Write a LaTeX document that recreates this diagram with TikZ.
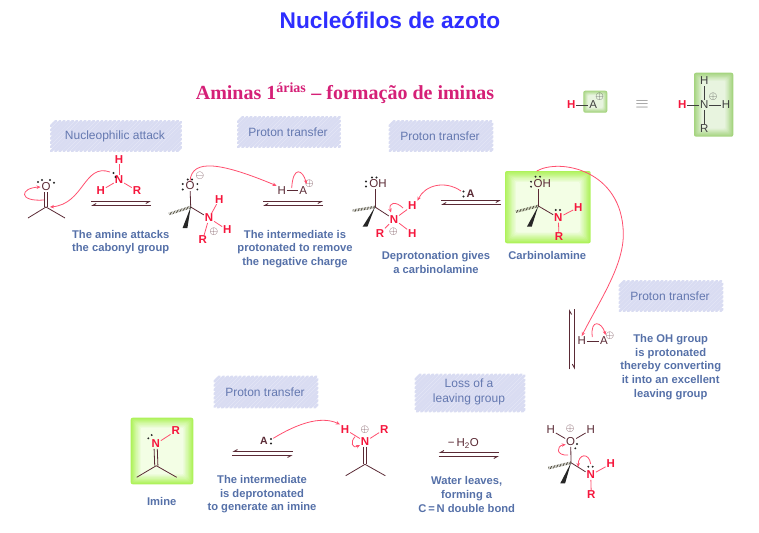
\documentclass[tikz,border=0pt]{standalone}
\usepackage{fontspec}
\setmainfont{Liberation Sans}
\newfontfamily\titleserif{Liberation Serif}
\usetikzlibrary{positioning,arrows.meta}
\definecolor{maroon}{HTML}{5A2A35}
\definecolor{atomred}{HTML}{F5163C}
\definecolor{curvepink}{HTML}{FF4F6E}
\definecolor{capblue}{HTML}{5570A8}
\definecolor{tagblue}{HTML}{6478B0}
\definecolor{tagstroke}{HTML}{D9DCF2}
\definecolor{tagfill}{HTML}{F1F2FB}
\definecolor{limeedge}{HTML}{AEF25A}
\definecolor{limecore}{HTML}{FAFFF5}
\definecolor{oliveedge}{HTML}{A4D47E}
\definecolor{olivecore}{HTML}{F0F8EA}
\begin{document}
\begin{tikzpicture}[x=1pt,y=-1pt,
		atom/.style={text=maroon,inner sep=.8pt,font=\fontsize{11.5}{11.5}\selectfont},
		hetero/.style={text=atomred,inner sep=.8pt,font=\fontsize{11.5}{11.5}\selectfont\bfseries},
		greyatom/.style={text=black!75,inner sep=.8pt,font=\fontsize{11.5}{11.5}\selectfont},
		charge/.style={text=maroon,inner sep=0pt,font=\fontsize{11}{11}\selectfont},
		bond/.style={draw=maroon,line width=.8pt},
		greybond/.style={draw=black!75,line width=.8pt},
		redbond/.style={draw=curvepink,line width=.8pt},
		hashbond/.style={draw=black!70!olive,line width=2.6pt,dash pattern=on .6pt off .9pt},
		wedgebond/.style={fill=black!85},
		curve/.style={draw=curvepink,line width=.8pt,-{Stealth[length=4pt,width=3.5pt]}},
		eqline/.style={draw=maroon,line width=.9pt,-{Straight Barb[right,length=3.5pt,width=4pt]}},
		tag/.style={text=tagblue,align=center,font=\fontsize{12}{14.3}\selectfont,inner sep=0pt},
		caption/.style={text=capblue,align=center,inner sep=0pt,font=\fontsize{11.2}{13.7}\selectfont\bfseries}]
	\useasboundingbox (0,0) rectangle (759,532);

	% glow boxes
	\foreach \xa/\ya/\xb/\yb/\edge/\core/\w in {505/171/590.7/243.3/limeedge/limecore/1.2,
			130.7/417.7/193.3/484.3/limeedge/limecore/1.1,
			583.3/90.7/607.3/112.7/oliveedge/olivecore/.5,
			694/72.7/733.3/136.7/oliveedge/olivecore/.9} {
		\foreach \i in {0,...,9} {
			\pgfmathtruncatemacro\pct{100-\i*10}
			\fill[\edge!\pct!\core,rounded corners=2pt] ({\xa+\i*\w},{\ya+\i*\w}) rectangle ({\xb-\i*\w},{\yb-\i*\w});
		}
	}

	% headings
	\node[text=blue!82!white,font=\fontsize{22.7}{22.7}\selectfont\bfseries] (title) at (390,20) {Nucleófilos de azoto};
	\node[text=black!15!magenta!85!red,font=\fontsize{20}{20}\selectfont\bfseries\titleserif] (subtitle) at (345,93) {Aminas 1\textsuperscript{árias} – formação de iminas};

	% hatched tags
	\foreach \cx/\cy/\w/\h in {116/136/130/30,289/132/102/30,441/136/103/30,671/296/103/30,470/393/109/37,266/392/103/31} {
		\pgfmathsetmacro\lft{\cx-\w/2}
		\pgfmathsetmacro\rgt{\cx+\w/2}
		\pgfmathsetmacro\bot{\cy+\h/2}
		\pgfmathsetmacro\sa{\lft-\h+5}
		\pgfmathsetmacro\sb{\lft-\h+9.2}
		\fill[tagfill,rounded corners=5pt] (\lft,{\cy-\h/2}) rectangle (\rgt,\bot);
		\foreach \s in {\sa,\sb,...,\rgt} {
			\pgfmathsetmacro\ua{max(\lft,\s)}
			\pgfmathsetmacro\va{min(\rgt,\s+\h)}
			\draw[tagstroke,line width=2.7pt,line cap=round] (\ua,{\bot-(\ua-\s)}) -- (\va,{\bot-(\va-\s)});
		}
	}
	\node[tag] (tag1) at (115,136) {Nucleophilic attack};
	\node[tag] (tag2) at (288,132) {Proton transfer};
	\node[tag] (tag3) at (440,136) {Proton transfer};
	\node[tag] (tag4) at (670,296) {Proton transfer};
	\node[tag] (tag5) at (469,392) {Loss of a\\leaving group};
	\node[tag] (tag6) at (265,392) {Proton transfer};

	% H-A legend
	\node[hetero]	(lh)	at (571.3,105)	{H};
	\node[greyatom]	(la)	at (593.3,105)	{A};
	\node[charge,text=black!75]	(lp)	at (599.5,97)	{$\oplus$};
	\draw[greybond] (lh) -- (la);
	\node[text=black!50,font=\fontsize{17}{17}\selectfont] (leq) at (642,104.5) {$\equiv$};
	\node[hetero]	(rh)	at (682.3,105)	{H};
	\node[greyatom]	(rn)	at (704.3,105)	{N};
	\node[greyatom]	(rh2)	at (726,105)	{H};
	\node[greyatom]	(rh3)	at (704.3,80.7)	{H};
	\node[greyatom]	(rr)	at (704.3,129)	{R};
	\node[charge,text=black!75]	(rp)	at (713,96.5)	{$\oplus$};
	\draw[greybond] (rh) -- (rn);
	\draw[greybond] (rn) -- (rh2);
	\draw[greybond] (rn) -- (rh3);
	\draw[greybond] (rn) -- (rr);

	% equilibrium arrows
	\foreach \n/\xa/\xb/\ya/\yb in {1/91/151/201.5/205.5,2/263/323/201.5/205.5,3/441/501/200.5/204.5,
			4/232.3/292.7/455.5/451.5,5/438.7/499/456.5/452.5} {
		\coordinate (eq\n a) at (\xa,\ya);
		\coordinate (eq\n b) at (\xb,\ya);
		\coordinate (eq\n c) at (\xb,\yb);
		\coordinate (eq\n d) at (\xa,\yb);
		\draw[eqline] (eq\n a) -- (eq\n b);
		\draw[eqline] (eq\n c) -- (eq\n d);
	}
	\coordinate (eqva) at (569.6,369.3);
	\coordinate (eqvb) at (569.6,309.3);
	\coordinate (eqvc) at (574.3,309.3);
	\coordinate (eqvd) at (574.3,369.3);
	\draw[eqline] (eqva) -- (eqvb);
	\draw[eqline] (eqvc) -- (eqvd);

	% ketone and amine
	\node[atom]		(o1)	at (46,187)		{O};
	\coordinate		(c1)	at (46,207);
	\coordinate		(m1a)	at (28,218);
	\coordinate		(m1b)	at (65,218);
	\draw[bond] ([xshift=-1.6]o1.south) -- ([xshift=-1.6]c1);
	\draw[bond] ([xshift=1.6]o1.south) -- ([xshift=1.6]c1);
	\draw[bond] (c1) -- (m1a);
	\draw[bond] (c1) -- (m1b);
	\coordinate		(b1)	at (44,200);
	\draw[curve] (b1) .. controls (18,202) and (20,188) .. (o1.west);
	\node[hetero]	(n1)	at (119,180)	{N};
	\node[hetero]	(h1a)	at (119,159.3)	{H};
	\node[hetero]	(h1b)	at (100.7,190.7) {H};
	\node[hetero]	(r1)	at (137,190.7)	{R};
	\draw[redbond] (n1) -- (h1a);
	\draw[redbond] (n1) -- (h1b);
	\draw[redbond] (n1) -- (r1);
	\coordinate		(lp1)	at (110,172);
	\draw[curve] (lp1) .. controls (84,163) and (84,204) .. ([xshift=4]c1);

	% alkoxide
	\node[atom]		(o2)	at (190,186)	{O};
	\node[charge]	(m2)	at (200,175.7)	{$\ominus$};
	\coordinate		(c2)	at (190.7,207);
	\coordinate		(w2)	at (185,228);
	\coordinate		(s2)	at (169,214);
	\node[hetero]	(n2)	at (209,218)	{N};
	\node[hetero]	(h2a)	at (219.3,199.3) {H};
	\node[hetero]	(h2b)	at (227.3,230)	{H};
	\node[hetero]	(r2)	at (202.7,240)	{R};
	\node[charge]	(p2)	at (214,231.5) {$\oplus$};
	\draw[bond] (o2) -- (c2);
	\draw[bond] (c2) -- (n2);
	\draw[hashbond] (c2) -- (s2);
	\fill[wedgebond] (c2) -- ([xshift=-2.4]w2) -- ([xshift=2.4]w2) -- cycle;
	\draw[redbond] (n2) -- (h2a);
	\draw[redbond] (n2) -- (h2b);
	\draw[redbond] (n2) -- (r2);
	\node[atom]		(h2c)	at (281.7,190.7) {H};
	\node[atom]		(a2)	at (303.3,190.7) {A};
	\node[charge]	(p2a)	at (309.3,184)	{$\oplus$};
	\draw[bond] (h2c) -- (a2);
	\draw[curve] (o2.north) .. controls (192,158) and (222,163) .. (h2c.north west);
	\coordinate		(b2)	at (291.7,188);
	\draw[curve] (b2) .. controls (293,165) and (303,170) .. (306.5,184);

	% protonated amine
	\node[atom]		(o3)	at (378,184)	{OH};
	\coordinate		(c3)	at (375,207);
	\coordinate		(w3)	at (365,226.7);
	\coordinate		(s3)	at (352.7,210.7);
	\node[hetero]	(n3)	at (394,219.3)	{N};
	\node[hetero]	(h3a)	at (412.3,205.7) {H};
	\node[hetero]	(h3b)	at (412.3,233.3) {H};
	\node[hetero]	(r3)	at (380,233.3)	{R};
	\node[charge]	(p3)	at (393.5,232)	{$\oplus$};
	\draw[bond] (c3) -- (c3 |- o3.south);
	\draw[bond] (c3) -- (n3);
	\draw[hashbond] (c3) -- (s3);
	\fill[wedgebond] (c3) -- ([xshift=-2.4]w3) -- ([xshift=2.4]w3) -- cycle;
	\draw[redbond] (n3) -- (h3a);
	\draw[redbond] (n3) -- (h3b);
	\draw[redbond] (n3) -- (r3);
	\coordinate		(b3)	at (403,208);
	\coordinate		(t3)	at (391,212.5);
	\draw[curve] (b3) .. controls (396,201) and (388,202) .. (t3);
	\node[atom,font=\fontsize{11}{11}\selectfont\bfseries] (a3) at (470.5,194) {A};
	\coordinate		(s3a)	at (461,191);
	\draw[curve] (s3a) .. controls (445,180) and (425,185) .. (h3a.north east);

	% carbinolamine
	\node[atom]		(o4)	at (542.3,184)	{OH};
	\coordinate		(c4)	at (538.3,206);
	\coordinate		(w4)	at (529.3,226.7);
	\coordinate		(s4)	at (516,211.7);
	\node[hetero]	(n4)	at (558.3,217.7) {N};
	\node[hetero]	(h4)	at (578.3,207.3) {H};
	\node[hetero]	(r4)	at (559,236.7)	{R};
	\draw[bond] (c4) -- (c4 |- o4.south);
	\draw[bond] (c4) -- (n4);
	\draw[hashbond] (c4) -- (s4);
	\fill[wedgebond] (c4) -- ([xshift=-2.4]w4) -- ([xshift=2.4]w4) -- cycle;
	\draw[redbond] (n4) -- (h4);
	\draw[redbond] (n4) -- (r4);

	% long arrow to H-A
	\node[atom]		(h5c)	at (581.7,341)	{H};
	\node[atom]		(a5)	at (604,341)	{A};
	\node[charge]	(p5a)	at (609.8,335.5) {$\oplus$};
	\draw[bond] (h5c) -- (a5);
	\coordinate		(t5)	at (536.7,171);
	\coordinate		(v5)	at (623.3,233);
	\draw[curve] (t5) .. controls (560,158) and (622,170) .. (v5) .. controls (624,265) and (600,300) .. (h5c.north);
	\coordinate		(b5)	at (592.3,337);
	\draw[curve] (b5) .. controls (590,318) and (602,322) .. (605.5,335);

	% protonated alcohol
	\node[atom]		(o6)	at (570.7,441.7) {O};
	\node[atom]		(h6a)	at (550.7,430)	{H};
	\node[atom]		(h6b)	at (590.7,430)	{H};
	\node[charge]	(p6)	at (570,428.5)	{$\oplus$};
	\coordinate		(c6)	at (571,462.7);
	\coordinate		(w6)	at (562.7,483.3);
	\coordinate		(s6)	at (547.7,468.3);
	\node[hetero]	(n6)	at (590.7,475)	{N};
	\node[hetero]	(h6c)	at (610.7,464)	{H};
	\node[hetero]	(r6)	at (591.3,495)	{R};
	\draw[bond] (o6) -- (h6a);
	\draw[bond] (o6) -- (h6b);
	\draw[bond] (o6) -- (c6);
	\draw[bond] (c6) -- (n6);
	\draw[hashbond] (c6) -- (s6);
	\fill[wedgebond] (c6) -- ([xshift=-2.4]w6) -- ([xshift=2.4]w6) -- cycle;
	\draw[redbond] (n6) -- (h6c);
	\draw[redbond] (n6) -- (r6);
	\coordinate		(b6)	at (568,455);
	\coordinate		(t6)	at (565.7,444.5);
	\draw[curve] (b6) .. controls (556,456) and (556,446) .. (t6);
	\coordinate		(l6)	at (590.7,464);
	\coordinate		(e6)	at (578.3,467);
	\draw[curve] (l6) .. controls (589,452) and (578,454) .. (e6);
	\node[atom]		(w6l)	at (463.3,443.3) {\textminus\,H\textsubscript{2}O};

	% iminium
	\node[hetero]	(h7)	at (345,429.3)	{H};
	\node[hetero]	(n7)	at (365,441.7)	{N};
	\node[hetero]	(r7)	at (384.3,429.3) {R};
	\node[charge]	(p7)	at (365,430)	{$\oplus$};
	\coordinate		(c7)	at (365,464.3);
	\coordinate		(m7a)	at (345.7,475.7);
	\coordinate		(m7b)	at (385.3,475.7);
	\draw[redbond] (n7) -- (h7);
	\draw[redbond] (n7) -- (r7);
	\draw[bond] ([xshift=-1.6]n7.south) -- ([xshift=-1.6]c7);
	\draw[bond] ([xshift=1.6]n7.south) -- ([xshift=1.6]c7);
	\draw[bond] (c7) -- (m7a);
	\draw[bond] (c7) -- (m7b);
	\coordinate		(b7)	at (355,436.7);
	\coordinate		(t7)	at (360,445);
	\draw[curve] (b7) .. controls (350,442) and (352,449) .. (t7);
	\node[atom,font=\fontsize{10.5}{10.5}\selectfont\bfseries] (a7) at (264,441) {A};
	\coordinate		(s7)	at (273.3,438.3);
	\draw[curve] (s7) .. controls (295,425) and (320,415) .. (h7.north west);

	% imine
	\node[hetero]	(n8)	at (155.7,444)	{N};
	\node[hetero]	(r8)	at (175.7,431)	{R};
	\coordinate		(c8)	at (156.3,465.7);
	\coordinate		(m8a)	at (136.7,477.3);
	\coordinate		(m8b)	at (176.7,477.3);
	\draw[redbond] (n8) -- (r8);
	\draw[bond] ([xshift=-1.6]n8.south) -- ([xshift=-1.6]c8);
	\draw[bond] ([xshift=1.6]n8.south) -- ([xshift=1.6]c8);
	\draw[bond] (c8) -- (m8a);
	\draw[bond] (c8) -- (m8b);

	% lone pairs
	\foreach \a/\b in {38/182,42/180,50/180,54/182.7,113.5/173,115.5/177,
			182.7/184,182.7/189.5,187.7/179.5,192/179.5,197.3/184,197.3/189.5,
			366/181.5,366/186.5,372/177.5,376.5/177.5,
			463.5/191.5,463.5/196.5,
			531/181.7,531/186.7,535.5/176.7,540/176.7,555.7/210,560/210,
			577/444,575.3/448.3,588.3/466.7,592.7/466.7,
			148.3/438.3,151.7/435,271/439,271/443.5} {
		\fill[black!85] (\a,\b) circle (1.05);
	}

	% captions
	\node[caption] (cap1) at (120.7,242) {The amine attacks\\the cabonyl group};
	\node[caption] (cap2) at (295,249) {The intermediate is\\protonated to remove\\the negative charge};
	\node[caption] (cap3) at (436,262.5) {Deprotonation gives\\a carbinolamine};
	\node[caption] (cap4) at (547.3,255.7) {Carbinolamine};
	\node[caption] (cap5) at (670.7,367) {The OH group\\is protonated\\thereby converting\\it into an excellent\\leaving group};
	\node[caption] (cap6) at (466.7,494.3) {Water leaves,\\forming a\\C\,=\,N double bond};
	\node[caption] (cap7) at (262,494.3) {The intermediate\\is deprotonated\\to generate an imine};
	\node[caption] (cap8) at (161.7,501) {Imine};
\end{tikzpicture}
\end{document}
